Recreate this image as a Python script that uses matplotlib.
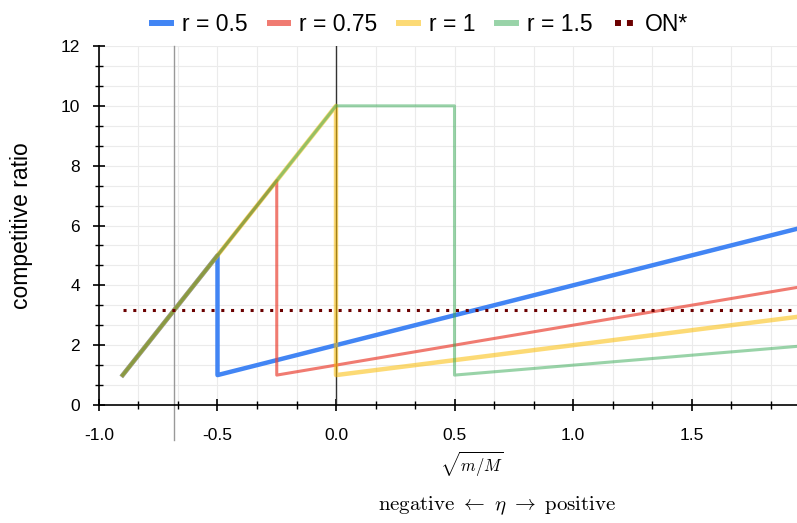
import matplotlib
matplotlib.use("Agg")
import matplotlib.pyplot as plt
from matplotlib.ticker import MultipleLocator
import numpy as np

plt.rcParams['font.family'] = ['Liberation Sans', 'DejaVu Sans']
plt.rcParams['axes.unicode_minus'] = False
plt.rcParams['mathtext.fontset'] = 'cm'

# points (eta, competitive ratio)
r05_x = [-0.9, -0.5, -0.5, 1.945]
r05_y = [1.0, 5.0, 1.0, 5.89]
r075_x = [-0.9, -0.25, -0.25, 1.945]
r075_y = [1.0, 7.5, 1.0, 3.93]
r1_x = [-0.9, 0.0, 0.0, 1.945]
r1_y = [1.0, 10.0, 1.0, 2.945]
r15_x = [-0.9, 0.0, 0.5, 0.5, 1.945]
r15_y = [1.0, 10.0, 10.0, 1.0, 1.96]
on_star = 3.162
on_x = [-0.9, 1.945]
sqrt_mM_x = -0.684

fig = plt.figure(figsize=(7.97, 5.23), dpi=100)
ax = fig.add_axes([0.1242, 0.2256, 0.8758, 0.6864])

ax.plot(r05_x, r05_y, color='#4285F4', lw=3.2, label='r = 0.5', zorder=3)
ax.plot(r075_x, r075_y, color='#EA4335', lw=2.2, alpha=0.7, label='r = 0.75', zorder=3)
ax.plot(r1_x, r1_y, color='#FBBC04', lw=3.2, alpha=0.55, label='r = 1', zorder=3)
ax.plot(r15_x, r15_y, color='#34A853', lw=2.2, alpha=0.5, label='r = 1.5', zorder=3)
ax.plot(on_x, [on_star, on_star], color='#6B0000', lw=2.2, ls=(0, (1, 2.2)), label='ON*', zorder=3)

ax.plot([0, 0], [0, 12], color='#333333', lw=1, zorder=2)
ax.plot([sqrt_mM_x, sqrt_mM_x], [-1.17, 12], color='#999999', lw=1, clip_on=False, zorder=2)

ax.set_xlim(-1.0, 1.945)
ax.set_ylim(0, 12)
ax.xaxis.set_major_locator(MultipleLocator(0.5))
ax.xaxis.set_minor_locator(MultipleLocator(1 / 6))
ax.yaxis.set_major_locator(MultipleLocator(2))
ax.yaxis.set_minor_locator(MultipleLocator(2 / 3))
ax.xaxis.set_major_formatter(matplotlib.ticker.FormatStrFormatter('%.1f'))

ax.grid(True, which='both', color='#EBEBEB', lw=0.8, zorder=0)
ax.set_axisbelow(True)
for s in ['top', 'right']:
    ax.spines[s].set_visible(False)
ax.spines['left'].set_linewidth(1.2)
ax.spines['bottom'].set_linewidth(1.2)
ax.tick_params(which='major', direction='inout', length=9, width=1.2, labelsize=12.5, colors='black')
ax.tick_params(which='minor', direction='inout', length=6, width=1.0)
ax.tick_params(axis='x', pad=12)
ax.tick_params(axis='y', pad=9)

ax.set_ylabel('competitive ratio', fontsize=16.5, labelpad=20)
fig.text(0.592, 0.098, r'$\sqrt{m/M}$', fontsize=12, ha='center')
fig.text(0.624, 0.025, r'$\mathrm{negative}\ \leftarrow\ \eta\ \rightarrow\ \mathrm{positive}$', fontsize=15,
         ha='center')

leg = fig.legend(loc='upper center', bbox_to_anchor=(0.527, 1.015), ncol=5, frameon=False,
                 fontsize=16.5, handlelength=0.8, handletextpad=0.5, columnspacing=0.95)
for h in leg.legend_handles:
    h.set_linewidth(4.3)
    h.set_alpha(None)
leg.legend_handles[1].set_alpha(0.7)
leg.legend_handles[2].set_alpha(0.55)
leg.legend_handles[3].set_alpha(0.5)
leg.legend_handles[4].set_linestyle((0, (1, 1)))

fig.savefig('out.png', dpi=100)
